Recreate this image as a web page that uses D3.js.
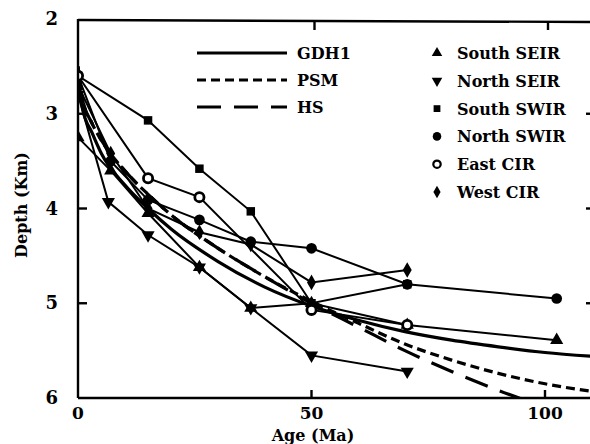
<!DOCTYPE html>
<html>
<head>
<meta charset="utf-8">
<script src="https://cdn.jsdelivr.net/npm/d3@7"></script>
<style>
  body { margin: 0; background: #fff; }
  text { font-family: "DejaVu Serif", serif; font-weight: bold; fill: #000; }
</style>
</head>
<body>
<svg id="graph" width="590" height="444"></svg>
<script>
// Données : [âge (Ma), profondeur (km)]
const southSEIR = [[0, 3.25], [7, 3.6], [15, 4.05], [26, 4.62], [37, 5.05], [50, 5.0], [70.5, 5.23], [102.5, 5.39]];
const northSEIR = [[0, 2.8], [6.5, 3.93], [15, 4.28], [26, 4.62], [37, 5.05], [50, 5.55], [70.5, 5.72]];
const southSWIR = [[0, 2.6], [15, 3.07], [26, 3.58], [37, 4.03], [50, 5.0], [70.5, 4.8]];
const northSWIR = [[0, 2.6], [7, 3.5], [15, 3.91], [26, 4.12], [37, 4.35], [50, 4.42], [70.5, 4.8], [102.5, 4.95]];
const eastCIR = [[0, 2.6], [15, 3.68], [26, 3.88], [50, 5.07], [70.5, 5.23]];
const westCIR = [[0, 2.7], [7, 3.42], [15, 4.0], [26, 4.25], [37, 4.38], [50, 4.78], [70.5, 4.65]];

// Courbes des modèles
const modelAges = [0, 1, 3, 5, 10, 15, 20, 30, 40, 50, 60, 70, 80, 90, 100, 110];
const gdh1Depth = [2.6, 2.95, 3.2, 3.42, 3.75, 4.0, 4.22, 4.56, 4.83, 5.03, 5.18, 5.3, 5.39, 5.46, 5.52, 5.56];
const psmDepth = [2.5, 2.85, 3.1, 3.28, 3.6, 3.85, 4.07, 4.42, 4.72, 4.98, 5.21, 5.43, 5.6, 5.74, 5.85, 5.93];
const hsDepth = [2.5, 2.85, 3.1, 3.28, 3.6, 3.85, 4.07, 4.42, 4.72, 5.0, 5.25, 5.5, 5.72, 5.92, 6.1, 6.3];

const yTicks = [2, 3, 4, 5, 6];
const xTicks = [0, 50, 100];

const series = [
  { name: "South SEIR", data: southSEIR, symbol: "triangleUp" },
  { name: "North SEIR", data: northSEIR, symbol: "triangleDown" },
  { name: "South SWIR", data: southSWIR, symbol: "square" },
  { name: "North SWIR", data: northSWIR, symbol: "circle" },
  { name: "East CIR", data: eastCIR, symbol: "ring" },
  { name: "West CIR", data: westCIR, symbol: "diamond" }
];
const models = [
  { name: "GDH1", depth: gdh1Depth, dash: null },
  { name: "PSM", depth: psmDepth, dash: "9,5" },
  { name: "HS", depth: hsDepth, dash: "24,13" }
];

const svg = d3.select("#graph");
const x = d3.scaleLinear().domain([0, 110]).range([78, 591.7]);
const y = d3.scaleLinear().domain([2, 6]).range([19, 398]);

svg.append("clipPath").attr("id", "clip")
  .append("rect").attr("x", 78).attr("y", 19).attr("width", 520).attr("height", 379);

const plot = svg.append("g").attr("clip-path", "url(#clip)");

// Modèles
const modelLine = d3.line().curve(d3.curveMonotoneX);
models.forEach(m => {
  plot.append("path")
    .attr("d", modelLine(modelAges.map((a, i) => [x(a), y(m.depth[i])])))
    .attr("fill", "none")
    .attr("stroke", "#000")
    .attr("stroke-width", 3.2)
    .attr("stroke-dasharray", m.dash);
});

// Séries de données
const line = d3.line().x(d => x(d[0])).y(d => y(d[1]));
series.forEach(s => {
  plot.append("path")
    .attr("d", line(s.data))
    .attr("fill", "none")
    .attr("stroke", "#000")
    .attr("stroke-width", 2);
});

function drawSymbol(g, type, cx, cy, scale) {
  const k = scale || 1;
  if (type === "ring") {
    g.append("circle").attr("cx", cx).attr("cy", cy).attr("r", 4.6 * k)
      .attr("fill", "#fff").attr("stroke", "#000").attr("stroke-width", 2.8 * k);
    return;
  }
  const types = {
    triangleUp: d3.symbolTriangle, triangleDown: d3.symbolTriangle,
    square: d3.symbolSquare, circle: d3.symbolCircle, diamond: d3.symbolDiamond
  };
  const sizes = { triangleUp: 75, triangleDown: 75, square: 72, circle: 90, diamond: 70 };
  g.append("path")
    .attr("d", d3.symbol().type(types[type]).size(sizes[type] * k * k)())
    .attr("transform", `translate(${cx},${cy})` + (type === "triangleDown" ? " rotate(180)" : ""))
    .attr("fill", "#000");
}

series.forEach(s => {
  s.data.forEach(d => drawSymbol(plot, s.symbol, x(d[0]), y(d[1])));
});

// Cadre et graduations
const axes = svg.append("g").attr("stroke", "#000").attr("stroke-width", 2.4);
axes.append("line").attr("x1", 78).attr("x2", 78).attr("y1", 19).attr("y2", 398);
axes.append("line").attr("x1", 78).attr("x2", 592).attr("y1", 398).attr("y2", 398);
axes.append("line").attr("x1", 78).attr("x2", 592).attr("y1", 20).attr("y2", 22);
yTicks.slice(1, -1).forEach(t => {
  axes.append("line").attr("x1", 78).attr("x2", 87).attr("y1", y(t)).attr("y2", y(t));
  axes.append("line").attr("x1", 586).attr("x2", 592).attr("y1", y(t)).attr("y2", y(t));
});
xTicks.slice(1).forEach(t => {
  axes.append("line").attr("x1", x(t)).attr("x2", x(t)).attr("y1", 398).attr("y2", 390);
  axes.append("line").attr("x1", x(t) + 3).attr("x2", x(t) + 3).attr("y1", 21).attr("y2", 30);
});

svg.selectAll("text.ytick").data(yTicks).enter().append("text")
  .attr("class", "ytick")
  .attr("x", 58).attr("y", d => y(d) + 6)
  .attr("text-anchor", "end")
  .attr("font-size", 18)
  .text(d => d);
svg.selectAll("text.xtick").data(xTicks).enter().append("text")
  .attr("class", "xtick")
  .attr("x", d => x(d)).attr("y", 419)
  .attr("text-anchor", "middle")
  .attr("font-size", 17)
  .text(d => d);

svg.append("text").attr("x", 313).attr("y", 441)
  .attr("text-anchor", "middle").attr("font-size", 16).text("Age (Ma)");
svg.append("text")
  .attr("transform", "translate(27,205) rotate(-90)")
  .attr("text-anchor", "middle").attr("font-size", 16).text("Depth (Km)");

// Légende des modèles
models.forEach((m, i) => {
  const ly = 53 + i * 27;
  svg.append("line").attr("x1", 197).attr("x2", 287).attr("y1", ly).attr("y2", ly)
    .attr("stroke", "#000").attr("stroke-width", 3.2).attr("stroke-dasharray", m.dash);
  svg.append("text").attr("x", 297).attr("y", ly + 6).attr("font-size", 16).text(m.name);
});

// Légende des séries
series.forEach((s, i) => {
  const ly = 53 + i * 27.8;
  drawSymbol(svg, s.symbol, 437, ly, 0.8);
  svg.append("text").attr("x", 457).attr("y", ly + 6).attr("font-size", 16).text(s.name);
});
</script>
</body>
</html>
